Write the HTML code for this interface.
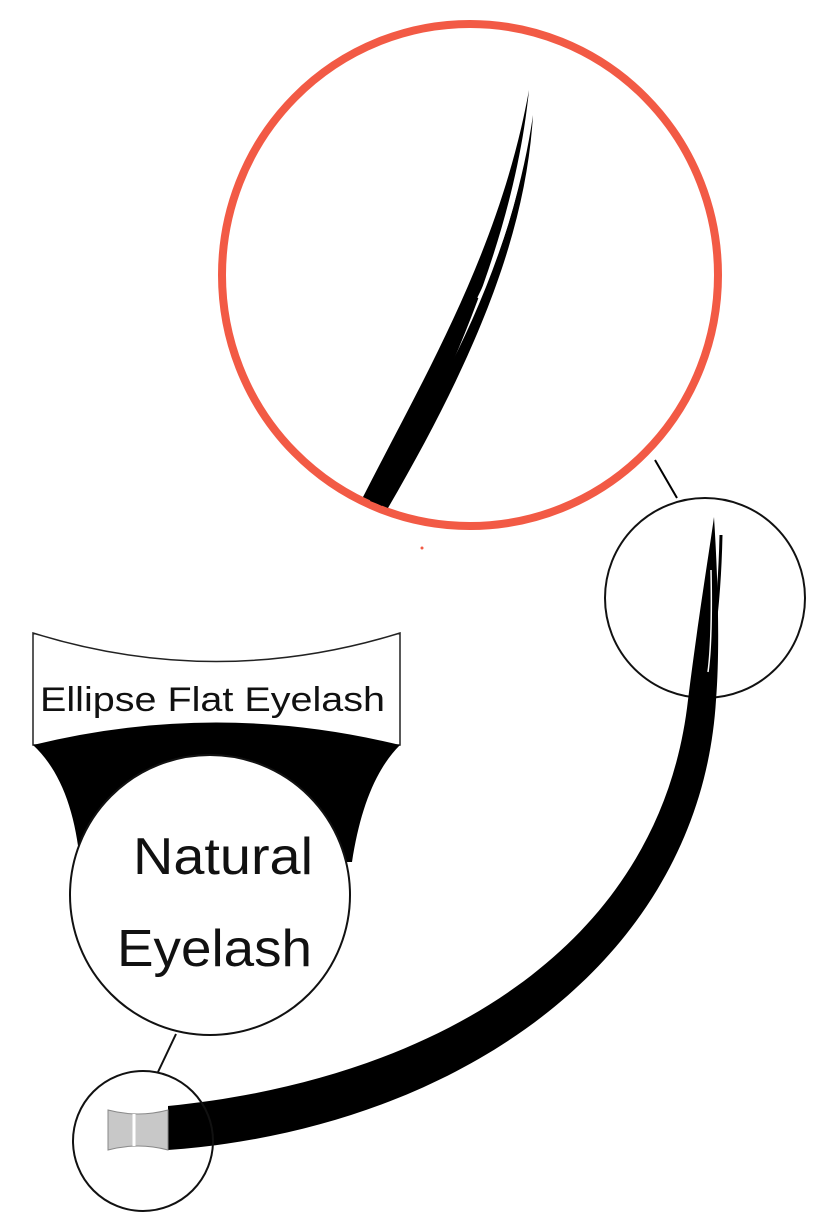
<!DOCTYPE html>
<html><head><meta charset="utf-8"><style>
html,body{margin:0;padding:0;background:#fff;}
svg{display:block;}
text{font-family:"Liberation Sans",Arial,sans-serif;fill:#111;}
</style></head><body>
<svg width="828" height="1229" viewBox="0 0 828 1229" xmlns="http://www.w3.org/2000/svg">
<rect width="828" height="1229" fill="#fff"/>
<!-- red circle -->
<ellipse cx="470" cy="275" rx="248" ry="251" fill="none" stroke="#f25a45" stroke-width="8"/>
<!-- lash in red circle -->
<path d="M363,497 C 425,375 500,250 529,90 C 516,220 462,360 382,506 Z" fill="#000"/>
<path d="M370,501 C 445,390 512,260 533,115 C 526,230 480,350 388,508 Z" fill="#000"/>
<path d="M525,150 C 515,210 497,260 478,298" fill="none" stroke="#fff" stroke-width="1.5"/>
<circle cx="422" cy="548" r="1.5" fill="#f25a45"/>
<!-- connector -->
<line x1="655" y1="460" x2="677" y2="498" stroke="#000" stroke-width="2"/>
<!-- small circle top right -->
<circle cx="705" cy="598" r="100" fill="none" stroke="#111" stroke-width="2"/>
<!-- big lash -->
<path d="M168,1106 C 430,1080 660,950 688,700 C 698,620 708,560 714,517 C 718,580 720,650 716,700 C 700,965 450,1130 168,1150 Z" fill="#000"/>
<path d="M721,535 C 720,580 716,630 708,670" fill="none" stroke="#000" stroke-width="3"/>
<path d="M711,570 C 712,620 711,650 708,672" fill="none" stroke="#fff" stroke-width="1.5"/>
<!-- banner -->
<path d="M33,633 Q 216,690 400,633 L 400,745 L 33,745 Z" fill="#fff" stroke="#222" stroke-width="1.5"/>
<text x="40" y="711" font-size="34" textLength="345" lengthAdjust="spacingAndGlyphs">Ellipse Flat Eyelash</text>
<!-- black crescent -->
<path d="M33,745 Q 216,700 400,745 C 375,770 360,810 352,862 L 80,862 C 75,810 60,770 33,745 Z" fill="#000"/>
<!-- natural eyelash circle -->
<circle cx="210" cy="895" r="140" fill="#fff" stroke="#111" stroke-width="2"/>
<text x="133" y="874" font-size="52" textLength="180" lengthAdjust="spacingAndGlyphs">Natural</text>
<text x="117" y="966" font-size="52" textLength="195" lengthAdjust="spacingAndGlyphs">Eyelash</text>
<!-- connector -->
<line x1="176" y1="1034" x2="158" y2="1072" stroke="#111" stroke-width="2"/>
<!-- small bottom circle -->
<circle cx="143" cy="1141" r="70" fill="none" stroke="#111" stroke-width="2"/>
<!-- gray base -->
<path d="M108,1110 Q 138,1118 168,1110 L 168,1150 Q 138,1142 108,1150 Z" fill="#c8c8c8" stroke="#888" stroke-width="1"/>
<line x1="134" y1="1114" x2="134" y2="1146" stroke="#fff" stroke-width="3"/>
</svg>
</body></html>
